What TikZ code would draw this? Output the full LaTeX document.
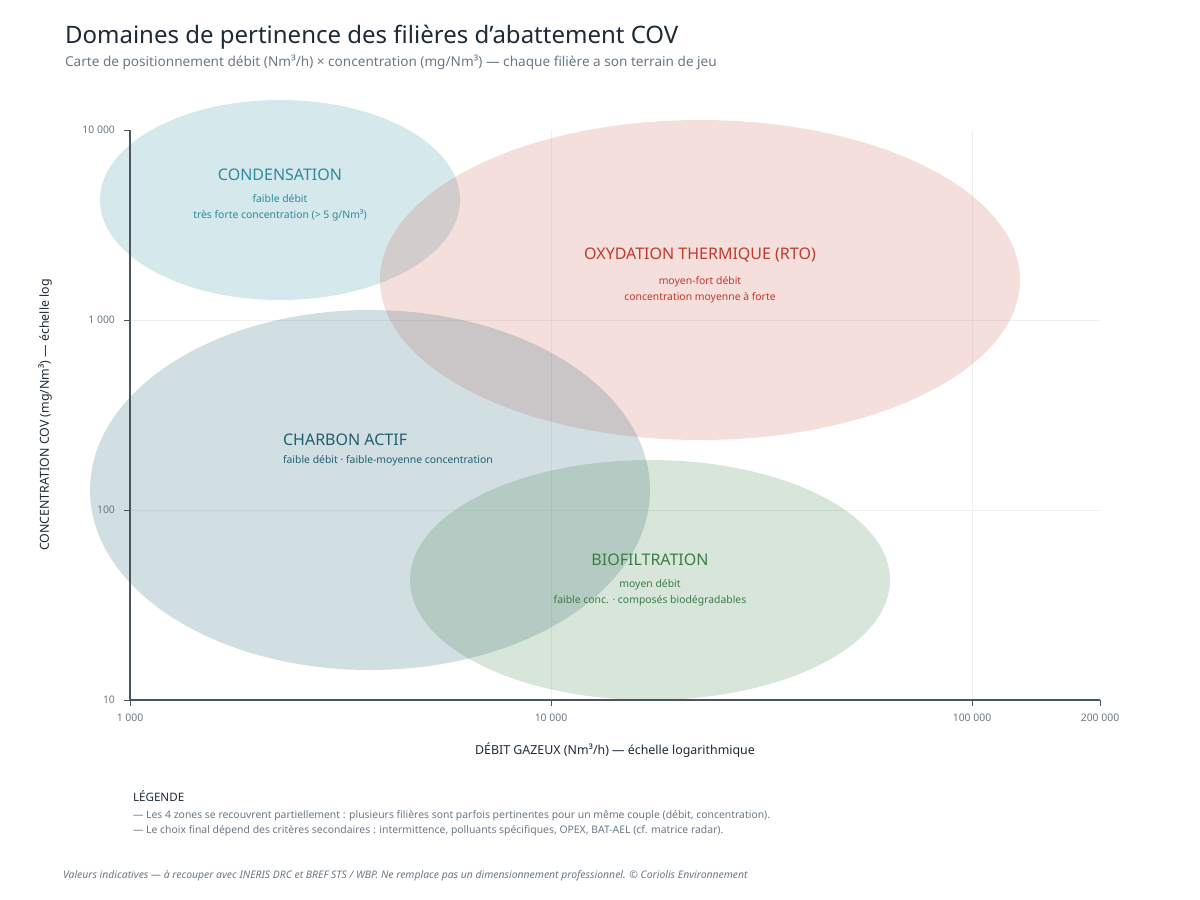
\documentclass[tikz,border=0pt]{standalone}
\usepackage{fontspec}
\setmainfont{Noto Sans}
\usetikzlibrary{positioning}
\definecolor{ink}{HTML}{1E2A38}
\definecolor{muted}{HTML}{6B7785}
\definecolor{condc}{HTML}{2E8B9A}
\definecolor{rtoc}{HTML}{C0392B}
\definecolor{charc}{HTML}{1F5F6F}
\definecolor{bioc}{HTML}{3A7D44}
\begin{document}
\begin{tikzpicture}[x=0.5pt,y=-0.5pt,
	zone/.style={fill opacity=0.2, draw=none},
	ztitle/.style={font=\fontsize{8}{9}\selectfont\bfseries},
	zsub/.style={font=\fontsize{5.2}{8}\selectfont, align=center},
	tick/.style={font=\fontsize{5.2}{6}\selectfont, text=muted},
	grid/.style={draw=black!6, line width=0.4pt},
	leg/.style={font=\fontsize{5.2}{6}\selectfont, text=muted, anchor=west}
	]
	\useasboundingbox (0,0) rectangle (1200,900);
	% titles
	\node (title) [anchor=west, font=\fontsize{12}{14}\selectfont\bfseries, text=ink] at (58,37) {Domaines de pertinence des filières d'abattement COV};
	\node (subtitle) [anchor=west, font=\fontsize{6.8}{8}\selectfont, text=muted] at (58,62) {Carte de positionnement débit (Nm³/h) × concentration (mg/Nm³) — chaque filière a son terrain de jeu};
	% grid
	\draw [grid] (130,320) -- (1100,320);
	\draw [grid] (130,510) -- (1100,510);
	\draw [grid] (551,130) -- (551,700);
	\draw [grid] (972,130) -- (972,700);
	% zones
	\fill [zone, fill=condc] (280,200) ellipse [x radius=180, y radius=100];
	\fill [zone, fill=rtoc!80] (700,280) ellipse [x radius=320, y radius=160];
	\fill [zone, fill=charc] (370,490) ellipse [x radius=280, y radius=180];
	\fill [zone, fill=bioc] (650,580) ellipse [x radius=240, y radius=120];
	% axes
	\coordinate (origin) at (130,700);
	\coordinate (xend) at (1100,700);
	\coordinate (yend) at (130,130);
	\draw [ink!80, line width=0.7pt] (yend) -- (origin) -- (xend);
	\foreach \y/\lab in {130/10 000, 320/1 000, 510/100, 700/10}{
		\draw [ink!80, line width=0.5pt] (124,\y) -- (130,\y);
		\node [tick, anchor=east] at (122,\y) {\lab};
	}
	\foreach \x/\lab in {130/1 000, 551/10 000, 972/100 000, 1100/200 000}{
		\draw [ink!80, line width=0.5pt] (\x,700) -- (\x,706);
		\node [tick] at (\x,718) {\lab};
	}
	\node (xlabel) [font=\fontsize{6.2}{7}\selectfont\bfseries, text=ink] at (615,750) {DÉBIT GAZEUX (Nm³/h) — échelle logarithmique};
	\node (ylabel) [font=\fontsize{6.2}{7}\selectfont\bfseries, text=ink, rotate=90] at (45,415) {CONCENTRATION COV (mg/Nm³) — échelle log};
	% zone labels
	\node (cond) [ztitle, text=condc] at (280,175) {CONDENSATION};
	\node (condsub) [zsub, text=condc, below=0pt of cond] {faible débit\\très forte concentration (> 5 g/Nm³)};
	\node (rto) [ztitle, text=rtoc] at (700,255) {OXYDATION THERMIQUE (RTO)};
	\node (rtosub) [zsub, text=rtoc, below=0pt of rto] {moyen-fort débit\\concentration moyenne à forte};
	\node (char) [ztitle, text=charc, anchor=west] at (276,440) {CHARBON ACTIF};
	\node (charsub) [zsub, text=charc, anchor=west] at (276,461) {faible débit · faible-moyenne concentration};
	\node (bio) [ztitle, text=bioc] at (650,560) {BIOFILTRATION};
	\node (biosub) [zsub, text=bioc, below=0pt of bio] {moyen débit\\faible conc. · composés biodégradables};
	% legend
	\node (legtitle) [anchor=west, font=\fontsize{5.8}{7}\selectfont\bfseries, text=ink] at (126,796) {LÉGENDE};
	\node (leg1) [leg] at (126,816) {— Les 4 zones se recouvrent partiellement : plusieurs filières sont parfois pertinentes pour un même couple (débit, concentration).};
	\node (leg2) [leg] at (126,831) {— Le choix final dépend des critères secondaires : intermittence, polluants spécifiques, OPEX, BAT-AEL (cf. matrice radar).};
	\node (foot) [anchor=west, font=\fontsize{5.2}{6}\selectfont\itshape, text=muted] at (56,876) {Valeurs indicatives — à recouper avec INERIS DRC et BREF STS / WBP. Ne remplace pas un dimensionnement professionnel. © Coriolis Environnement};
\end{tikzpicture}
\end{document}
